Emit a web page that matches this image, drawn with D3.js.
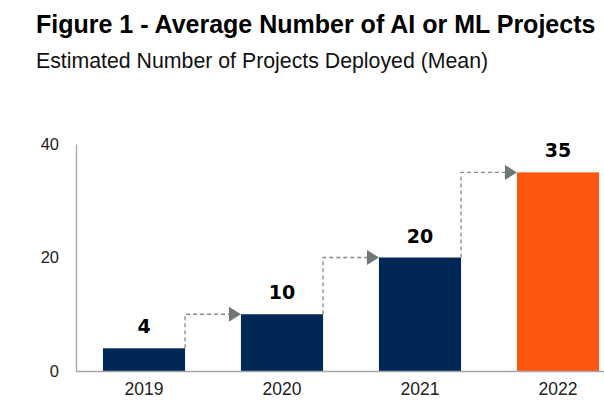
<!DOCTYPE html>
<html><head><meta charset="utf-8">
<script src="https://cdn.jsdelivr.net/npm/d3@7"></script>
<style>body{margin:0;background:#fff;} text{font-family:"Liberation Sans",Arial,sans-serif;}</style>
</head><body>
<script>
const categories = ["2019","2020","2021","2022"];
const values = [4,10,20,35];
const barColors = ["#002856","#002856","#002856","#FF560F"];
const yTicks = [0,20,40];
const title = "Figure 1 - Average Number of AI or ML Projects";
const subtitle = "Estimated Number of Projects Deployed (Mean)";

const W=604,H=407;
const svg=d3.select("body").append("svg").attr("width",W).attr("height",H);
const x=d3.scaleBand().domain(categories).range([75,627]).paddingInner(0.405).paddingOuter(0.2025);
const y=d3.scaleLinear().domain([0,40]).range([371,144]);

svg.append("text").attr("x",36).attr("y",33).attr("font-size",25).attr("font-weight","bold").attr("fill","#000").text(title);
svg.append("text").attr("x",36).attr("y",68).attr("font-size",21.3).attr("fill","#111").text(subtitle);

// y axis
const ya=svg.append("g").attr("transform","translate(76,0)").call(d3.axisLeft(y).tickValues(yTicks).tickSize(0).tickPadding(17));
ya.select(".domain").attr("stroke","#a6a6a6").attr("stroke-width",1.3);
ya.selectAll("text").attr("font-size",16.5).attr("fill","#222").style("font-family","Liberation Sans, Arial, sans-serif");

// bars
svg.selectAll("rect.bar").data(values).enter().append("rect").attr("class","bar")
 .attr("x",(d,i)=>x(categories[i])).attr("width",x.bandwidth())
 .attr("y",d=>y(d)).attr("height",d=>y(0)-y(d)).attr("fill",(d,i)=>barColors[i]);

// x axis
const xa=svg.append("g").attr("transform","translate(0,371)").call(d3.axisBottom(x).tickSize(0).tickPadding(12));
xa.select(".domain").remove();
svg.append("line").attr("x1",76).attr("x2",604).attr("y1",371.5).attr("y2",371.5).attr("stroke","#a6a6a6").attr("stroke-width",1.3);
xa.selectAll("text").attr("font-size",17.5).attr("fill","#222").style("font-family","Liberation Sans, Arial, sans-serif");

// value labels
svg.selectAll("text.val").data(values).enter().append("text").attr("class","val")
 .attr("x",(d,i)=>x(categories[i])+x.bandwidth()/2).attr("y",d=>y(d)-15)
 .attr("text-anchor","middle").attr("font-size",19).attr("font-weight","bold")
 .style("font-family","DejaVu Sans, sans-serif").attr("fill","#000").text(d=>d);

// dashed step arrows
for(let i=1;i<values.length;i++){
  const x0=x(categories[i-1])+x.bandwidth();
  const x1=x(categories[i]);
  const yb=y(values[i-1]), yt=y(values[i]);
  svg.append("path").attr("d",`M${x0},${yb}V${yt}H${x1-11}`)
   .attr("fill","none").attr("stroke","#888").attr("stroke-width",1.3).attr("stroke-dasharray","4,3");
  svg.append("path").attr("d",`M${x1-12},${yt-7.5}L${x1},${yt}L${x1-12},${yt+7.5}Z`).attr("fill","#6f7678");
}
</script>
</body></html>
